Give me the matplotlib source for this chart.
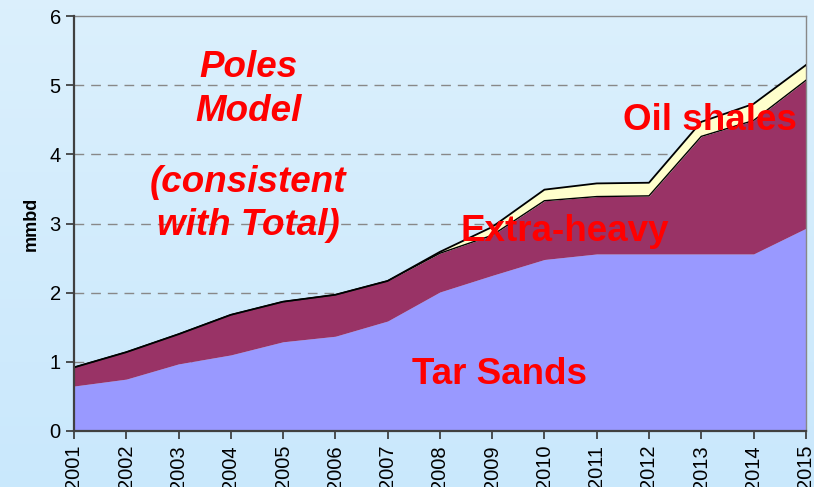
import numpy as np
import matplotlib
matplotlib.use("Agg")
import matplotlib.pyplot as plt

# Data (mmbd)
years = np.arange(2001, 2016)
tar_sands = [0.65, 0.75, 0.97, 1.10, 1.29, 1.37, 1.59, 2.01, 2.25, 2.48, 2.56, 2.56, 2.56, 2.56, 2.93]
extra_heavy = [0.27, 0.39, 0.43, 0.58, 0.58, 0.60, 0.58, 0.56, 0.58, 0.85, 0.83, 0.84, 1.70, 1.93, 2.14]
oil_shales = [0.0, 0.0, 0.0, 0.0, 0.0, 0.0, 0.0, 0.02, 0.12, 0.16, 0.19, 0.19, 0.21, 0.24, 0.22]

y_ticks = [0, 1, 2, 3, 4, 5, 6]

plt.rcParams['font.family'] = ['Liberation Sans', 'DejaVu Sans']

fig = plt.figure(figsize=(8.14, 4.87), dpi=100)

# light blue gradient background
bg = fig.add_axes([0, 0, 1, 1], zorder=-1)
grad = np.linspace(0, 1, 256).reshape(-1, 1)
top_col = np.array([0.86, 0.94, 0.99])
bot_col = np.array([0.79, 0.91, 0.99])
img = top_col + grad[:, :, None] * (bot_col - top_col)
bg.imshow(img, aspect='auto', extent=[0, 1, 0, 1])
bg.axis('off')

ax = fig.add_axes([0.0909, 0.115, 0.899, 0.852])
ax.patch.set_alpha(0)

lvl1 = np.array(tar_sands)
lvl2 = lvl1 + np.array(extra_heavy)
lvl3 = lvl2 + np.array(oil_shales)

ax.fill_between(years, 0, lvl1, color='#9999ff', lw=0, zorder=2)
ax.fill_between(years, lvl1, lvl2, color='#993366', lw=0, zorder=2)
ax.fill_between(years, lvl2, lvl3, color='#ffffcc', lw=0, zorder=2)
ax.plot(years, lvl2, color='black', lw=1, zorder=3)
ax.plot(years, lvl3, color='black', lw=1.3, zorder=3)

ax.set_xlim(2001, 2015)
ax.set_ylim(0, 6)
ax.set_yticks(y_ticks)
ax.set_xticks(years)
ax.set_xticklabels([str(y) for y in years], rotation=90, va='top')
ax.tick_params(axis='both', labelsize=14.5, direction='out', length=6, width=1.2, color='#333333')
ax.tick_params(axis='x', pad=4)
for y in y_ticks[1:-1]:
    ax.axhline(y, color='#888888', lw=1, ls=(0, (7, 5)), zorder=1)

for s in ['left', 'bottom']:
    ax.spines[s].set_color('#404040')
    ax.spines[s].set_linewidth(1.6)
    ax.spines[s].set_zorder(4)
for s in ['top', 'right']:
    ax.spines[s].set_color('#888888')
    ax.spines[s].set_linewidth(1)

ax.set_ylabel('mmbd', fontsize=13, fontweight='bold', labelpad=7)

red = '#ff0000'
kw = dict(color=red, fontsize=26.5, fontweight='bold', ha='center', va='center', zorder=5)
ax.text(2004.33, 5.26, 'Poles', style='italic', **kw)
ax.text(2004.33, 4.62, 'Model', style='italic', **kw)
ax.text(2004.33, 3.60, '(consistent', style='italic', **kw)
ax.text(2004.33, 2.97, 'with Total)', style='italic', **kw)
ax.text(2010.39, 2.88, 'Extra-heavy', **kw)
ax.text(2009.15, 0.82, 'Tar Sands', **kw)
ax.text(2013.16, 4.49, 'Oil shales', **kw)

fig.savefig('out.png', dpi=100)
